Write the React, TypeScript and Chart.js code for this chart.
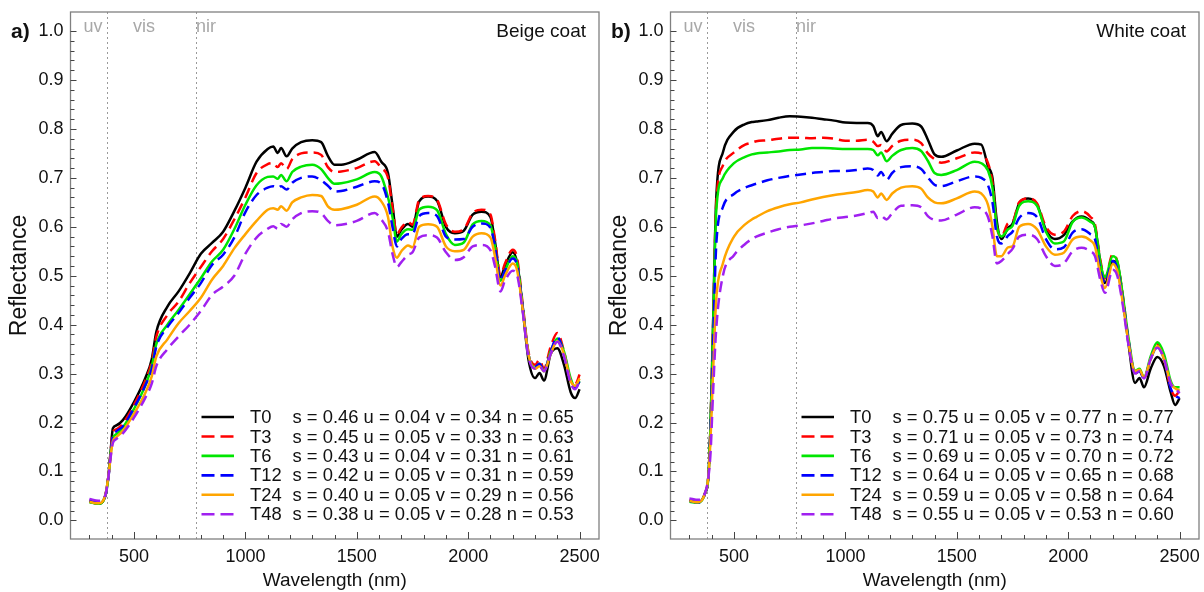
import React, { useEffect, useRef } from 'react';
import { Chart, registerables } from 'chart.js';

Chart.register(...registerables);

const FONT = "'Liberation Sans', Arial, sans-serif";

// Wavelength grid (nm)
const WAVELENGTH = [
  300, 340, 370, 385, 395, 405, 420, 450, 500, 550,
  580, 600, 650, 700, 750, 800, 850, 900, 950, 1000,
  1050, 1100, 1125, 1145, 1160, 1185, 1210, 1250, 1300, 1340,
  1370, 1400, 1430, 1500, 1580, 1610, 1640, 1660, 1680, 1700,
  1730, 1750, 1780, 1820, 1860, 1900, 1940, 1980, 2020, 2060,
  2100, 2120, 2145, 2165, 2200, 2220, 2245, 2270, 2300, 2320,
  2340, 2370, 2400, 2430, 2460, 2480, 2500,
];

const SERIES_NAMES = ['T0', 'T3', 'T6', 'T12', 'T24', 'T48'];
const SERIES_COLORS = ['#000000', '#ff0000', '#00e600', '#0000ff', '#ffa500', '#a020f0'];
const SERIES_DASHED = [false, true, false, true, false, true];

// a) Beige coat
const BEIGE_T0 = [
  0.038, 0.034, 0.049, 0.09, 0.14, 0.188, 0.194, 0.205, 0.242, 0.29,
  0.33, 0.385, 0.437, 0.468, 0.505, 0.545, 0.567, 0.59, 0.632, 0.68,
  0.733, 0.759, 0.764, 0.751, 0.761, 0.744, 0.76, 0.773, 0.777, 0.773,
  0.745, 0.727, 0.727, 0.737, 0.753, 0.733, 0.71, 0.645, 0.58, 0.594,
  0.606, 0.6, 0.652, 0.662, 0.653, 0.6, 0.587, 0.592, 0.625, 0.631,
  0.62, 0.57, 0.497, 0.52, 0.548, 0.525, 0.43, 0.33, 0.291, 0.301,
  0.286, 0.34, 0.352, 0.318, 0.262, 0.25, 0.268,
];
const BEIGE_T3 = [
  0.04, 0.036, 0.049, 0.09, 0.14, 0.18, 0.186, 0.198, 0.236, 0.285,
  0.325, 0.375, 0.42, 0.447, 0.485, 0.518, 0.55, 0.575, 0.615, 0.66,
  0.71, 0.728, 0.73, 0.722, 0.73, 0.718, 0.738, 0.75, 0.752, 0.747,
  0.722, 0.712, 0.713, 0.72, 0.734, 0.72, 0.7, 0.64, 0.585, 0.598,
  0.61, 0.604, 0.655, 0.663, 0.655, 0.605, 0.59, 0.595, 0.628, 0.635,
  0.625, 0.575, 0.502, 0.525, 0.553, 0.535, 0.44, 0.345, 0.318, 0.328,
  0.31, 0.355, 0.383, 0.345, 0.285, 0.278, 0.298,
];
const BEIGE_T6 = [
  0.037, 0.034, 0.048, 0.088, 0.135, 0.168, 0.176, 0.19, 0.228, 0.275,
  0.315, 0.36, 0.4, 0.43, 0.462, 0.495, 0.529, 0.553, 0.595, 0.645,
  0.685, 0.702, 0.703, 0.698, 0.706, 0.693, 0.712, 0.723, 0.727, 0.718,
  0.7, 0.688, 0.689, 0.697, 0.712, 0.703, 0.66, 0.62, 0.57, 0.585,
  0.595, 0.594, 0.635, 0.641, 0.634, 0.585, 0.563, 0.568, 0.605, 0.612,
  0.603, 0.56, 0.49, 0.51, 0.54, 0.525, 0.435, 0.34, 0.312, 0.32,
  0.305, 0.345, 0.372, 0.345, 0.29, 0.272, 0.285,
];
const BEIGE_T12 = [
  0.04, 0.036, 0.048, 0.088, 0.135, 0.172, 0.182, 0.192, 0.23, 0.275,
  0.31, 0.355, 0.395, 0.424, 0.455, 0.485, 0.522, 0.543, 0.578, 0.63,
  0.665, 0.68, 0.683, 0.68, 0.683, 0.676, 0.69, 0.7, 0.703, 0.695,
  0.684, 0.672, 0.673, 0.682, 0.693, 0.688, 0.65, 0.6, 0.56, 0.575,
  0.585, 0.585, 0.622, 0.628, 0.622, 0.58, 0.574, 0.575, 0.6, 0.607,
  0.598, 0.56, 0.49, 0.51, 0.535, 0.52, 0.435, 0.34, 0.314, 0.32,
  0.306, 0.345, 0.374, 0.34, 0.285, 0.27, 0.285,
];
const BEIGE_T24 = [
  0.038, 0.035, 0.049, 0.09, 0.13, 0.162, 0.17, 0.183, 0.218, 0.26,
  0.295, 0.335, 0.37, 0.403, 0.428, 0.455, 0.492, 0.52, 0.556, 0.585,
  0.612, 0.635, 0.638, 0.635, 0.642, 0.633, 0.65, 0.66, 0.665, 0.663,
  0.642, 0.635, 0.636, 0.645, 0.662, 0.652, 0.62, 0.56, 0.537, 0.55,
  0.562, 0.558, 0.6, 0.605, 0.6, 0.56, 0.55, 0.553, 0.58, 0.587,
  0.578, 0.54, 0.48, 0.5, 0.525, 0.51, 0.43, 0.34, 0.31, 0.315,
  0.305, 0.34, 0.366, 0.34, 0.285, 0.275, 0.29,
];
const BEIGE_T48 = [
  0.044, 0.04, 0.05, 0.088, 0.128, 0.158, 0.166, 0.178, 0.21, 0.25,
  0.28, 0.315, 0.35, 0.376, 0.4, 0.428, 0.461, 0.478, 0.5, 0.545,
  0.578, 0.596, 0.601, 0.596, 0.606, 0.6, 0.615, 0.628, 0.632, 0.628,
  0.612, 0.603, 0.604, 0.612, 0.628, 0.615, 0.59, 0.545, 0.518, 0.528,
  0.543, 0.548, 0.578, 0.583, 0.578, 0.548, 0.532, 0.538, 0.56, 0.563,
  0.552, 0.52, 0.468, 0.49, 0.51, 0.5, 0.425, 0.335, 0.31, 0.315,
  0.305, 0.34, 0.365, 0.335, 0.28, 0.268, 0.285,
];

// b) White coat
const WHITE_T0 = [
  0.04, 0.037, 0.056, 0.09, 0.2, 0.38, 0.655, 0.752, 0.795, 0.81,
  0.814, 0.815, 0.818, 0.823, 0.826, 0.825, 0.823, 0.82, 0.817, 0.813,
  0.812, 0.812, 0.806, 0.785, 0.794, 0.775, 0.79, 0.808, 0.811, 0.805,
  0.778, 0.748, 0.743, 0.756, 0.77, 0.768, 0.724, 0.7, 0.61, 0.575,
  0.598, 0.606, 0.648, 0.658, 0.646, 0.594, 0.575, 0.583, 0.611, 0.621,
  0.612, 0.6, 0.525, 0.485, 0.53, 0.525, 0.455, 0.363, 0.281, 0.291,
  0.272, 0.31, 0.334, 0.315, 0.262, 0.236, 0.25,
];
const WHITE_T3 = [
  0.04, 0.037, 0.056, 0.09, 0.2, 0.38, 0.645, 0.725, 0.752, 0.768,
  0.772, 0.775, 0.777, 0.78, 0.782, 0.782, 0.781, 0.782, 0.78, 0.776,
  0.776, 0.778, 0.774, 0.765, 0.767, 0.754, 0.765, 0.776, 0.778, 0.771,
  0.75, 0.738, 0.731, 0.74, 0.752, 0.75, 0.73, 0.69, 0.6, 0.58,
  0.607, 0.61, 0.65, 0.658, 0.648, 0.6, 0.584, 0.59, 0.622, 0.632,
  0.62, 0.605, 0.53, 0.495, 0.544, 0.53, 0.46, 0.37, 0.3, 0.307,
  0.29, 0.33, 0.36, 0.33, 0.27, 0.255, 0.265,
];
const WHITE_T6 = [
  0.038, 0.036, 0.055, 0.09, 0.2, 0.37, 0.63, 0.7, 0.73, 0.743,
  0.748, 0.75, 0.752, 0.754, 0.757, 0.758, 0.761, 0.761, 0.76, 0.759,
  0.759, 0.759, 0.757, 0.746, 0.752, 0.734, 0.745, 0.757, 0.761, 0.755,
  0.735, 0.71, 0.706, 0.716, 0.733, 0.73, 0.715, 0.68, 0.6, 0.58,
  0.595, 0.602, 0.643, 0.652, 0.643, 0.59, 0.566, 0.57, 0.61, 0.619,
  0.61, 0.6, 0.525, 0.497, 0.54, 0.53, 0.46, 0.375, 0.306, 0.31,
  0.292, 0.335, 0.364, 0.34, 0.285, 0.272, 0.272,
];
const WHITE_T12 = [
  0.04, 0.037, 0.055, 0.09, 0.19, 0.34, 0.56, 0.64, 0.667, 0.68,
  0.685, 0.688, 0.695, 0.7, 0.704, 0.707, 0.71, 0.712, 0.714, 0.714,
  0.716, 0.719, 0.716, 0.705, 0.712, 0.696, 0.71, 0.722, 0.724, 0.718,
  0.701, 0.686, 0.683, 0.693, 0.703, 0.7, 0.685, 0.65, 0.58, 0.566,
  0.582, 0.59, 0.618, 0.628, 0.62, 0.575, 0.554, 0.558, 0.588, 0.595,
  0.585, 0.575, 0.51, 0.485, 0.53, 0.515, 0.45, 0.37, 0.3, 0.305,
  0.29, 0.33, 0.355, 0.33, 0.27, 0.255, 0.25,
];
const WHITE_T24 = [
  0.04, 0.037, 0.055, 0.09, 0.17, 0.29, 0.45, 0.525, 0.58, 0.605,
  0.615, 0.62, 0.632, 0.64, 0.646, 0.65, 0.656, 0.661, 0.665, 0.668,
  0.671, 0.675, 0.672, 0.66, 0.668, 0.655, 0.668, 0.68, 0.683, 0.678,
  0.66, 0.65, 0.648, 0.658, 0.672, 0.668, 0.645, 0.6, 0.54, 0.54,
  0.558, 0.56, 0.6, 0.606, 0.595, 0.56, 0.543, 0.547, 0.574, 0.58,
  0.572, 0.56, 0.5, 0.475, 0.524, 0.51, 0.445, 0.365, 0.305, 0.308,
  0.292, 0.33, 0.356, 0.33, 0.28, 0.27, 0.265,
];
const WHITE_T48 = [
  0.045, 0.042, 0.056, 0.088, 0.14, 0.25, 0.39, 0.5, 0.542, 0.565,
  0.575, 0.58, 0.588, 0.595, 0.6, 0.603, 0.607, 0.612, 0.617, 0.62,
  0.623, 0.628, 0.631, 0.618, 0.622, 0.615, 0.628, 0.643, 0.644, 0.64,
  0.622, 0.614, 0.613, 0.625, 0.64, 0.637, 0.62, 0.58, 0.525, 0.53,
  0.545, 0.555, 0.58, 0.584, 0.575, 0.54, 0.52, 0.525, 0.55, 0.557,
  0.55, 0.54, 0.49, 0.465, 0.512, 0.5, 0.44, 0.36, 0.3, 0.305,
  0.29, 0.33, 0.353, 0.33, 0.28, 0.27, 0.26,
];

const BEIGE_STATS = [
  's = 0.46 u = 0.04 v = 0.34 n = 0.65',
  's = 0.45 u = 0.05 v = 0.33 n = 0.63',
  's = 0.43 u = 0.04 v = 0.31 n = 0.61',
  's = 0.42 u = 0.05 v = 0.31 n = 0.59',
  's = 0.40 u = 0.05 v = 0.29 n = 0.56',
  's = 0.38 u = 0.05 v = 0.28 n = 0.53',
];
const WHITE_STATS = [
  's = 0.75 u = 0.05 v = 0.77 n = 0.77',
  's = 0.71 u = 0.05 v = 0.73 n = 0.74',
  's = 0.69 u = 0.05 v = 0.70 n = 0.72',
  's = 0.64 u = 0.05 v = 0.65 n = 0.68',
  's = 0.59 u = 0.05 v = 0.58 n = 0.64',
  's = 0.55 u = 0.05 v = 0.53 n = 0.60',
];

const X_TICKS = [500, 1000, 1500, 2000, 2500];
const Y_TICKS = [0, 0.1, 0.2, 0.3, 0.4, 0.5, 0.6, 0.7, 0.8, 0.9, 1.0];
const REGION_BOUNDS = [380, 780];
const REGION_LABELS = ['uv', 'vis', 'nir'];
const REGION_LABEL_AT = [316, 545, 823];

type PanelProps = {
  letter: string;
  title: string;
  series: number[][];
  stats: string[];
};

function zeroPad(s: any) {
  s.paddingTop = 0;
  s.paddingBottom = 0;
  s.paddingLeft = 0;
  s.paddingRight = 0;
}

function makeDecor(p: PanelProps) {
  return {
    id: 'decor',
    beforeDatasetsDraw(chart: any) {
      const { ctx, chartArea: a, scales } = chart;
      const x = scales.x;
      ctx.save();
      ctx.strokeStyle = '#9a9a9a';
      ctx.lineWidth = 1;
      ctx.setLineDash([2, 3]);
      ctx.beginPath();
      for (const b of REGION_BOUNDS) {
        const px = Math.round(x.getPixelForValue(b)) + 0.5;
        ctx.moveTo(px, a.top);
        ctx.lineTo(px, a.bottom);
      }
      ctx.stroke();
      ctx.setLineDash([]);
      ctx.fillStyle = '#a8a8a8';
      ctx.font = `18px ${FONT}`;
      ctx.textAlign = 'center';
      ctx.textBaseline = 'alphabetic';
      REGION_LABELS.forEach((t, i) => {
        ctx.fillText(t, x.getPixelForValue(REGION_LABEL_AT[i]), a.top + 20);
      });
      ctx.restore();
    },
    afterDraw(chart: any) {
      const { ctx, chartArea: a, scales } = chart;
      const x = scales.x;
      const y = scales.y;
      ctx.save();
      // box
      ctx.strokeStyle = '#808080';
      ctx.lineWidth = 1.3;
      ctx.strokeRect(a.left, a.top, a.right - a.left, a.bottom - a.top);
      // inward ticks
      ctx.strokeStyle = '#444';
      ctx.lineWidth = 1;
      ctx.beginPath();
      for (let v = 300; v <= 2500; v += 100) {
        const px = Math.round(x.getPixelForValue(v)) + 0.5;
        const len = v % 500 === 0 ? 7 : 4;
        ctx.moveTo(px, a.bottom);
        ctx.lineTo(px, a.bottom - len);
      }
      for (let k = 0; k <= 50; k++) {
        const py = Math.round(y.getPixelForValue(k / 50)) + 0.5;
        const len = k % 5 === 0 ? 6 : 4;
        ctx.moveTo(a.left, py);
        ctx.lineTo(a.left + len, py);
      }
      ctx.stroke();

      ctx.fillStyle = '#111';
      // panel letter
      ctx.font = `bold 21px ${FONT}`;
      ctx.textAlign = 'left';
      ctx.textBaseline = 'middle';
      ctx.fillText(p.letter, 11, 32);
      // panel title
      ctx.font = `19px ${FONT}`;
      ctx.textAlign = 'right';
      ctx.textBaseline = 'alphabetic';
      ctx.fillText(p.title, a.right - 13, 37);
      // axis titles
      ctx.font = `19px ${FONT}`;
      ctx.textAlign = 'center';
      ctx.textBaseline = 'middle';
      ctx.fillText('Wavelength (nm)', (a.left + a.right) / 2, 581);
      ctx.save();
      ctx.translate(20, (a.top + a.bottom) / 2);
      ctx.rotate(-Math.PI / 2);
      ctx.font = `23px ${FONT}`;
      ctx.fillText('Reflectance', 0, 0);
      ctx.restore();

      // legend
      ctx.font = `18.4px ${FONT}`;
      ctx.textAlign = 'left';
      ctx.textBaseline = 'middle';
      SERIES_NAMES.forEach((name, i) => {
        const ly = 417 + i * 19.45;
        ctx.strokeStyle = SERIES_COLORS[i];
        ctx.lineWidth = 2.6;
        ctx.setLineDash(SERIES_DASHED[i] ? [13, 6] : []);
        ctx.beginPath();
        ctx.moveTo(a.left + 131, ly);
        ctx.lineTo(a.left + 163.5, ly);
        ctx.stroke();
        ctx.setLineDash([]);
        ctx.fillStyle = '#111';
        ctx.fillText(name, a.left + 179.5, ly + 1);
        ctx.fillText(p.stats[i], a.left + 222, ly + 1);
      });
      ctx.restore();
    },
  };
}

function Panel(props: PanelProps) {
  const ref = useRef<HTMLCanvasElement | null>(null);
  useEffect(() => {
    if (!ref.current) return;
    const datasets = props.series.map((arr, i) => ({
      label: SERIES_NAMES[i],
      data: WAVELENGTH.map((w, j) => ({ x: w, y: arr[j] })),
      borderColor: SERIES_COLORS[i],
      backgroundColor: SERIES_COLORS[i],
      borderWidth: 2.5,
      borderDash: SERIES_DASHED[i] ? [11, 6] : [],
      pointRadius: 0,
      fill: false,
      cubicInterpolationMode: 'monotone' as const,
      order: SERIES_NAMES.length - 1 - i,
    }));
    const chart = new Chart(ref.current, {
      type: 'line',
      data: { datasets },
      options: {
        animation: false,
        responsive: false,
        devicePixelRatio: 1,
        layout: { padding: { left: 0, right: 1, top: 12, bottom: 0 } },
        plugins: { legend: { display: false }, tooltip: { enabled: false } },
        scales: {
          x: {
            type: 'linear',
            min: 215,
            max: 2587,
            afterBuildTicks: (s: any) => {
              s.ticks = X_TICKS.map((v) => ({ value: v }));
            },
            afterFit: (s: any) => {
              s.height = 53;
              zeroPad(s);
            },
            ticks: {
              autoSkip: false,
              maxRotation: 0,
              padding: 7,
              color: '#111',
              font: { family: FONT, size: 18 },
              callback: (v: any) => String(v),
            },
            grid: { display: false, drawTicks: false },
            border: { display: false },
          },
          y: {
            type: 'linear',
            min: -0.038,
            max: 1.039,
            afterBuildTicks: (s: any) => {
              s.ticks = Y_TICKS.map((v) => ({ value: v }));
            },
            afterFit: (s: any) => {
              s.width = 70.5;
              zeroPad(s);
            },
            ticks: {
              autoSkip: false,
              padding: 7,
              color: '#111',
              font: { family: FONT, size: 18 },
              callback: (v: any) => Number(v).toFixed(1),
            },
            grid: { display: false, drawTicks: false },
            border: { display: false },
          },
        },
      },
      plugins: [makeDecor(props)],
    });
    return () => chart.destroy();
  }, []);
  return <canvas ref={ref} width={600} height={592} style={{ display: 'block', width: 600, height: 592 }} />;
}

export default function App() {
  return (
    <div
      style={{
        position: 'fixed',
        left: 0,
        top: 0,
        width: 1204,
        height: 592,
        background: '#fff',
        display: 'flex',
        flexDirection: 'row',
      }}
    >
      <Panel
        letter="a)"
        title="Beige coat"
        series={[BEIGE_T0, BEIGE_T3, BEIGE_T6, BEIGE_T12, BEIGE_T24, BEIGE_T48]}
        stats={BEIGE_STATS}
      />
      <Panel
        letter="b)"
        title="White coat"
        series={[WHITE_T0, WHITE_T3, WHITE_T6, WHITE_T12, WHITE_T24, WHITE_T48]}
        stats={WHITE_STATS}
      />
    </div>
  );
}
